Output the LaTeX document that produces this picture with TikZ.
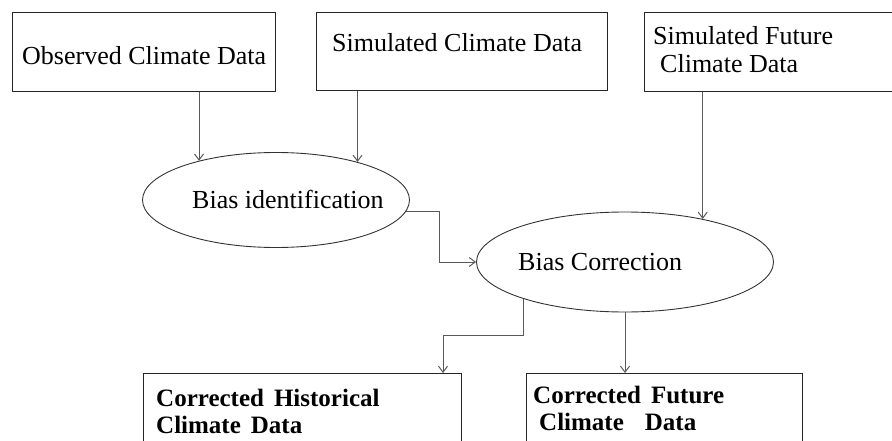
\documentclass[tikz,border=0pt]{standalone}
\usepackage{fontspec}
\setmainfont{Liberation Serif}
\usetikzlibrary{shapes.geometric,arrows.meta}

\tikzset{
  box/.style={draw=black!85,line width=0.9pt,rectangle,inner sep=0pt,anchor=north west},
  oval/.style={draw=black!80,line width=0.9pt,ellipse,inner sep=0pt},
  txt/.style={inner sep=0pt,anchor=base west,font=\fontsize{26}{28}\selectfont,align=left},
  btxt/.style={inner sep=0pt,anchor=base west,font=\fontsize{25}{27}\selectfont\bfseries,align=left},
  link/.style={draw=black!65,line width=1pt,-{Straight Barb[length=6pt,width=9pt]}}
}

\begin{document}
\begin{tikzpicture}[x=1pt,y=-1pt]

      \useasboundingbox (0,0) rectangle (892,441);
      \clip (0,0) rectangle (892,441);

      % boxes
      \node[box,minimum width=263pt,minimum height=79pt] (obs)  at (12,12)   {};
      \node[box,minimum width=291pt,minimum height=78pt] (sim)  at (316,12)  {};
      \node[box,minimum width=260pt,minimum height=79pt] (fut)  at (644,12)  {};
      \node[box,minimum width=318pt,minimum height=90pt] (hist) at (143,373) {};
      \node[box,minimum width=276pt,minimum height=90pt] (fcor) at (526,373) {};

      % ellipses
      \node[oval,minimum width=267pt,minimum height=95pt]  (bid)  at (276,200) {};
      \node[oval,minimum width=297pt,minimum height=100pt] (bcor) at (625,262) {};

      % texts (two-line ones sit on their last baseline)
      \node[txt]  (obs-t)  at (22,65)   {Observed Climate Data};
      \node[txt]  (sim-t)  at (332,52)  {Simulated Climate Data};
      \node[txt]  (fut-t)  at (653,73)  {Simulated Future\\\hspace*{7pt}Climate Data};
      \node[txt]  (bid-t)  at (192,208) {Bias identification};
      \node[txt]  (bcor-t) at (518,270) {Bias Correction};
      \node[btxt] (hist-t) at (156,433) {Corrected\hspace{10pt}Historical\\Climate\hspace{10pt}Data};
      \node[btxt] (fcor-t) at (533,430) {Corrected\hspace{10pt}Future\\\hspace*{6pt}Climate\hspace{21pt}Data};

      \coordinate (split) at (443,335);

      % connectors
      \draw[link] (obs.south -| bid.153) -- (bid.153);
      \draw[link] (sim.south -| bid.25) -- (bid.25);
      \draw[link] (fut.south -| bcor.29) -- (bcor.29);
      \draw[link] (bid.-5) -- ++(33,0) |- (bcor.west);
      \draw[link] (bcor.200) |- (split) -- (split |- hist.north);
      \draw[link] (bcor.south) -- (bcor.south |- fcor.north);

    \end{tikzpicture}
\end{document}
